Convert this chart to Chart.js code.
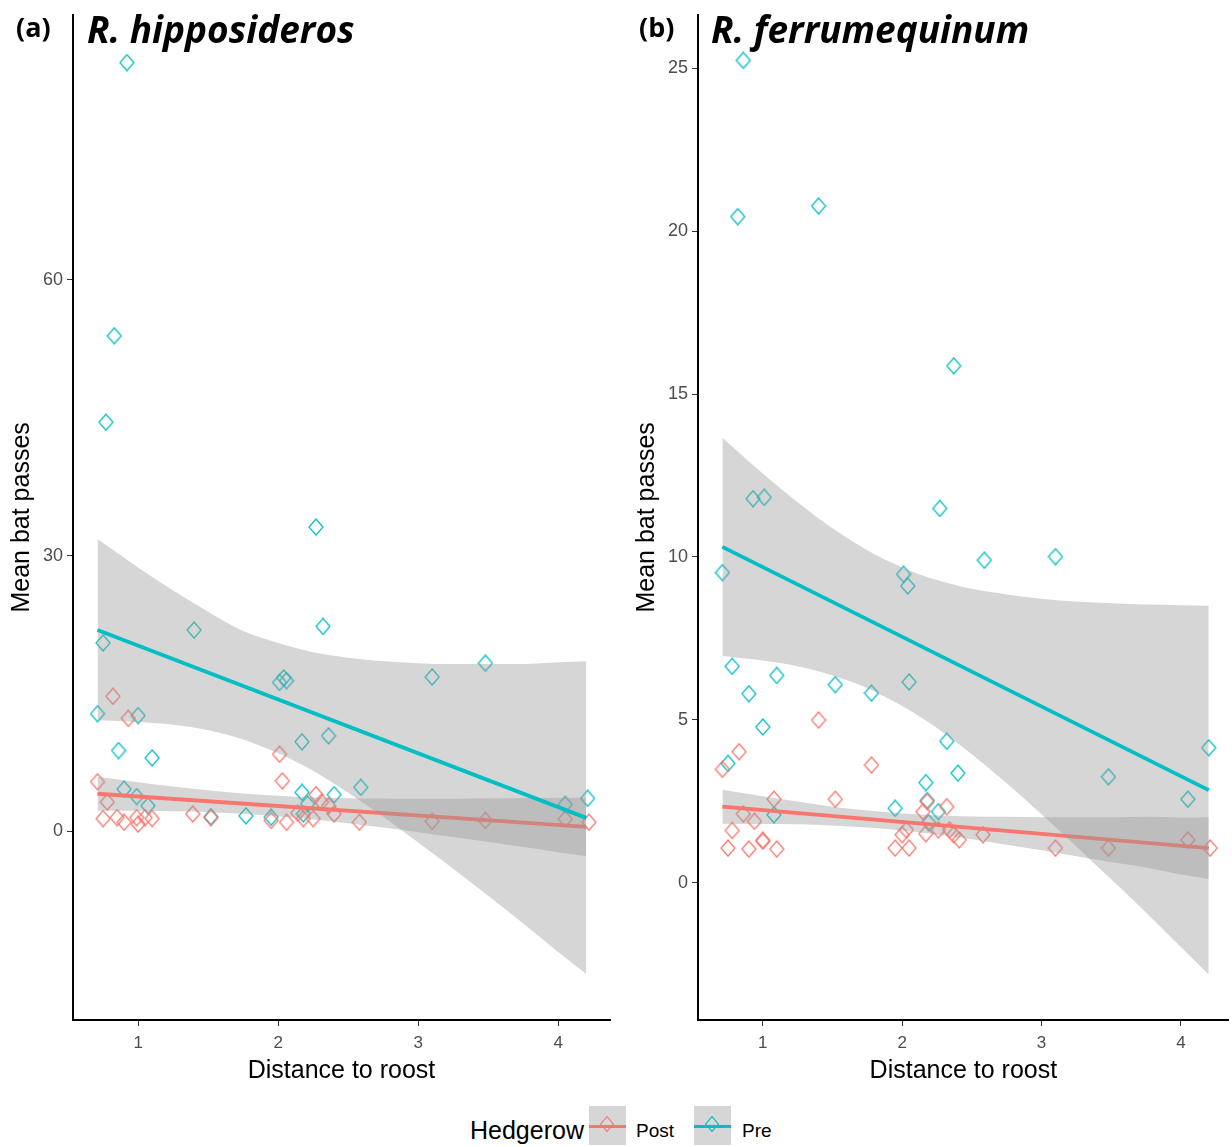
<!DOCTYPE html>
<html>
<head>
<meta charset="utf-8">
<script src="https://cdn.jsdelivr.net/npm/chart.js@4.4.1/dist/chart.umd.min.js"></script>
<style>
html,body{margin:0;padding:0;background:#fff;}
body{width:1232px;height:1147px;overflow:hidden;position:relative;font-family:"Liberation Sans",Arial,sans-serif;}
.panel{position:absolute;top:0;height:1100px;}
.panel canvas{display:block;}
.tag{position:absolute;font-family:"Open Sans",Lato,sans-serif;font-weight:bold;font-size:27px;line-height:1;color:#000;white-space:nowrap;}
.ttl{position:absolute;font-family:"Open Sans",Lato,sans-serif;font-weight:bold;font-style:italic;font-size:37px;line-height:1;color:#000;white-space:nowrap;}
.leg{position:absolute;line-height:1;color:#000;white-space:nowrap;}
.key{position:absolute;top:1106px;width:37px;height:39px;background:#D6D6D6;}
.kl{position:absolute;left:0;right:0;top:19px;height:3px;}
.kd{position:absolute;left:13px;top:13px;width:10px;height:10px;border:1.2px solid;box-sizing:border-box;transform:scaleY(1.15) rotate(45deg);background:transparent;}
</style>
</head>
<body>
<div class="panel" style="left:0;width:620px;"><canvas id="ca" width="620" height="1100" style="width:620px;height:1100px;"></canvas></div>
<div class="panel" style="left:625px;width:613px;"><canvas id="cb" width="613" height="1100" style="width:613px;height:1100px;"></canvas></div>

<div class="tag" style="left:16px;top:13px;">(a)</div>
<div class="ttl" style="left:87px;top:10px;">R. hipposideros</div>
<div class="tag" style="left:639px;top:13px;">(b)</div>
<div class="ttl" style="left:711px;top:10px;">R. ferrumequinum</div>

<div class="leg" style="left:470px;top:1118px;font-size:25px;">Hedgerow</div>
<div class="key" style="left:589px;"><div class="kl" style="background:#F8766D;"></div><div class="kd" style="border-color:#F8766D;"></div></div>
<div class="leg" style="left:636px;top:1121px;font-size:19px;">Post</div>
<div class="key" style="left:694px;"><div class="kl" style="background:#00BFC4;"></div><div class="kd" style="border-color:#00BFC4;"></div></div>
<div class="leg" style="left:742px;top:1121px;font-size:19px;">Pre</div>

<script>
// ---------- data ----------
const xTicks = [1, 2, 3, 4];
const yTicksA = [0, 30, 60];
const yTicksB = [0, 5, 10, 15, 20, 25];

// Panel (a) R. hipposideros
const preXA = [0.92,0.83,0.77,2.27,2.32,1.40,0.75,0.71,1.00,0.86,1.10,2.01,2.04,2.06,3.10,3.48,2.17,2.36,2.59,2.40,2.17,0.90,0.99,1.07,1.52,1.77,1.95,2.21,2.18,4.05,4.21];
const preYA = [83.6,53.9,44.5,33.1,22.3,21.9,20.5,12.8,12.6,8.8,8.0,16.2,16.7,16.4,16.8,18.3,9.75,10.4,4.8,4.0,4.25,4.6,3.8,2.8,1.6,1.7,1.55,3.0,1.9,2.95,3.6];
const postXA = [0.82,0.93,2.01,2.03,0.71,0.78,0.75,0.85,0.90,0.99,1.00,1.05,1.10,1.39,1.52,1.95,2.06,2.18,2.25,2.27,2.31,2.36,2.40,2.14,2.58,3.10,3.48,4.05,4.22];
const postYA = [14.7,12.3,8.4,5.5,5.4,3.2,1.4,1.5,1.0,1.5,0.8,1.5,1.4,1.9,1.5,1.2,1.0,1.4,1.4,4.0,3.2,2.8,1.9,2.0,1.0,1.1,1.2,1.35,1.0];

// Panel (b) R. ferrumequinum
const preXB = [0.86,0.82,1.40,2.37,0.93,1.01,2.27,0.71,2.01,2.04,2.59,3.10,0.78,1.10,0.90,1.52,1.78,2.05,1.00,2.32,2.40,2.17,0.75,4.20,3.48,4.05,1.95,2.18,2.26,1.08,2.19];
const preYB = [25.25,20.45,20.78,15.87,11.79,11.83,11.49,9.52,9.47,9.11,9.90,10.01,6.64,6.36,5.80,6.08,5.82,6.16,4.78,4.34,3.36,3.07,3.66,4.14,3.25,2.56,2.28,2.52,2.18,2.08,1.84];
const postXB = [1.40,0.83,0.71,1.78,1.08,1.52,2.18,2.32,2.15,0.86,0.94,0.78,1.00,1.00,0.75,0.90,1.10,1.95,2.05,2.03,2.00,2.17,2.26,2.34,2.41,2.37,2.58,3.10,3.48,4.05,4.21];
const postYB = [4.99,4.02,3.48,3.61,2.56,2.56,2.49,2.33,2.18,2.11,1.88,1.60,1.30,1.27,1.06,1.03,1.03,1.06,1.06,1.62,1.47,1.50,1.62,1.62,1.31,1.47,1.47,1.06,1.06,1.31,1.06];

// Fitted lines (end points) and confidence ribbons
const lineX = [0.71, 4.2];
const preLineA = [21.9, 1.48];
const postLineA = [4.10, 0.50];
const preLineB = [10.31, 2.84];
const postLineB = [2.33, 1.06];

const bandX = [0.71,1.0,1.25,1.5,1.75,2.0,2.25,2.5,2.75,3.0,3.25,3.5,3.75,4.0,4.2];
const preUpA  = [31.8,28.7,26.2,23.9,21.8,20.5,19.5,18.9,18.5,18.3,18.2,18.2,18.2,18.4,18.5];
const preLoA  = [12.1,11.9,11.6,11.0,10.0,8.5,6.6,4.2,1.6,-1.2,-4.05,-7.0,-10.0,-13.1,-15.5];
const postUpA = [5.95,5.36,4.89,4.48,4.13,3.88,3.71,3.62,3.58,3.56,3.57,3.60,3.63,3.67,3.70];
const postLoA = [2.25,2.24,2.19,2.10,1.93,1.66,1.31,0.90,0.42,-0.08,-0.61,-1.14,-1.69,-2.25,-2.70];
const preUpB  = [13.66,12.56,11.68,10.88,10.21,9.68,9.29,9.02,8.85,8.72,8.63,8.58,8.54,8.52,8.50];
const preLoB  = [6.96,6.82,6.64,6.36,5.97,5.42,4.75,3.94,3.05,2.10,1.11,0.10,-0.92,-1.98,-2.82];
const postUpB = [2.85,2.65,2.49,2.33,2.21,2.12,2.06,2.03,2.02,2.01,2.01,2.01,2.02,2.00,2.01];
const postLoB = [1.81,1.80,1.79,1.75,1.69,1.60,1.48,1.33,1.16,0.99,0.81,0.63,0.46,0.25,0.11];

// ---------- styling ----------
const POST = '#F8766D';
const PRE = '#00BFC4';
const RIBBON = 'rgba(153,153,153,0.4)';
const FONT = "'Liberation Sans', Arial, sans-serif";

const xy = (xs, ys) => xs.map((x, i) => ({x: x, y: ys[i]}));

// open diamond marker (slightly taller than wide, as in the reference)
function diamond(col) {
  const c = document.createElement('canvas');
  c.width = 16; c.height = 18;
  const g = c.getContext('2d');
  g.strokeStyle = col; g.lineWidth = 1.2;
  g.beginPath();
  g.moveTo(8, 1); g.lineTo(15, 9); g.lineTo(8, 17); g.lineTo(1, 9); g.closePath();
  g.stroke();
  return c;
}

function pointsDs(xs, ys, col) {
  return {type: 'scatter', data: xy(xs, ys), pointStyle: diamond(col), pointRadius: 8, pointHoverRadius: 8,
    pointBorderColor: col, pointBackgroundColor: 'rgba(0,0,0,0)', pointBorderWidth: 1.2, showLine: false, order: 10};
}
function bandDs(up, lo, ord) {
  return [
    {type: 'line', data: xy(bandX, up), borderWidth: 0, borderColor: 'rgba(0,0,0,0)', pointRadius: 0,
      backgroundColor: RIBBON, fill: '+1', cubicInterpolationMode: 'monotone', order: ord},
    {type: 'line', data: xy(bandX, lo), borderWidth: 0, borderColor: 'rgba(0,0,0,0)', pointRadius: 0,
      fill: false, cubicInterpolationMode: 'monotone', order: ord}
  ];
}
function lineDs(ys, col, ord) {
  return {type: 'line', data: xy(lineX, ys), borderColor: col, borderWidth: 3.8, pointRadius: 0, fill: false, order: ord};
}

function makeChart(id, cfg) {
  const datasets = [
    pointsDs(cfg.postX, cfg.postY, POST),
    pointsDs(cfg.preX, cfg.preY, PRE),
    ...bandDs(cfg.postUp, cfg.postLo, 4),
    lineDs(cfg.postLine, POST, 3),
    ...bandDs(cfg.preUp, cfg.preLo, 2),
    lineDs(cfg.preLine, PRE, 1)
  ];
  return new Chart(document.getElementById(id), {
    type: 'scatter',
    data: {datasets: datasets},
    options: {
      responsive: false,
      maintainAspectRatio: false,
      animation: false,
      devicePixelRatio: 1,
      events: [],
      layout: {padding: {top: 11, right: cfg.padRight, bottom: 5, left: 0}},
      plugins: {legend: {display: false}, tooltip: {enabled: false}},
      scales: {
        x: {
          type: 'linear', min: 0.535, max: cfg.xMax,
          afterBuildTicks: s => { s.ticks = xTicks.map(v => ({value: v})); },
          afterFit: s => { s.height = 75; },
          grid: {display: true, drawOnChartArea: false, drawTicks: true, tickLength: 6, color: '#333333', lineWidth: 1},
          border: {display: true, color: '#000000', width: 2},
          ticks: {color: '#4D4D4D', font: {family: FONT, size: 17}, padding: 7, maxRotation: 0, autoSkip: false},
          title: {display: true, text: 'Distance to roost', color: '#000000', font: {family: FONT, size: 25}, padding: {top: 0, bottom: 9}}
        },
        y: {
          type: 'linear', min: cfg.yMin, max: cfg.yMax,
          afterBuildTicks: s => { s.ticks = cfg.yTicks.map(v => ({value: v})); },
          afterFit: s => { s.width = 73; },
          grid: {display: true, drawOnChartArea: false, drawTicks: true, tickLength: 6, color: '#333333', lineWidth: 1},
          border: {display: true, color: '#000000', width: 2},
          ticks: {color: '#4D4D4D', font: {family: FONT, size: 18}, padding: 4, autoSkip: false},
          title: {display: true, text: 'Mean bat passes', color: '#000000', font: {family: FONT, size: 25}, padding: {top: 7, bottom: 0}}
        }
      }
    }
  });
}

makeChart('ca', {
  preX: preXA, preY: preYA, postX: postXA, postY: postYA,
  preUp: preUpA, preLo: preLoA, postUp: postUpA, postLo: postLoA,
  preLine: preLineA, postLine: postLineA,
  yMin: -20.5, yMax: 88.8, yTicks: yTicksA, padRight: 10, xMax: 4.37
});
makeChart('cb', {
  preX: preXB, preY: preYB, postX: postXB, postY: postYB,
  preUp: preUpB, preLo: preLoB, postUp: postUpB, postLo: postLoB,
  preLine: preLineB, postLine: postLineB,
  yMin: -4.22, yMax: 26.65, yTicks: yTicksB, padRight: 0, xMax: 4.344
});
</script>
</body>
</html>
